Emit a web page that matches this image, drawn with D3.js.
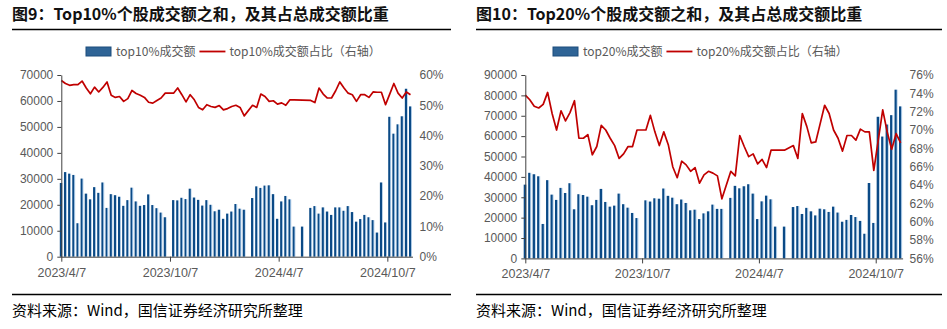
<!DOCTYPE html>
<html>
<head>
<meta charset="utf-8">
<script src="https://cdn.jsdelivr.net/npm/d3@7"></script>
<style>
  body { margin: 0; background: #fff; }
  svg { display: block; }
</style>
</head>
<body>
<svg id="chart" width="947" height="329"></svg>
<script>
// weekly data, Fridays from 2023/4/7 to 2024/11/15 (null = no trading week)
const startDate = new Date(2023, 3, 7);
const endDate = new Date(2024, 10, 15);
const weeks = d3.timeFriday.range(startDate, d3.timeDay.offset(endDate, 1));
const xTickLabels = ["2023/4/7", "2023/10/7", "2024/4/7", "2024/10/7"];

const top10Amount = [
  28400, 32600, 32000, 31500, 12900, 30100, 24300, 22100, 26800, 24600,
  28600, 18800, 24100, 23700, 23100, 19600, 21800, 26600, 21300, 19600,
  19900, 24000, 19900, 18700, 17000, 15200, null, 21800, 21700, 22700,
  22200, 26200, 22800, 21900, 19700, 21800, 20000, 17500, 18100, 14600,
  16600, 17400, 20300, 18500, 18100, null, 22600, 27100, 26500, 27400,
  27500, 24100, 14600, 21300, 23400, 22100, 11600, null, 11600, null,
  18800, 19500, 16600, 19000, 17400, 16100, 19000, 19000, 17700, 19500,
  17200, 13500, 14500, 16100, 15200, 14100, 9300, 28600, 13200, 53900,
  47400, 51000, 54100, 64700, 57900
];
const top10Share = [
  58.2, 57.2, 56.6, 56.8, 56.8, 58.0, 55.7, 53.8, 56.0, 54.4,
  55.9, 57.7, 53.3, 52.6, 52.9, 51.3, 52.2, 54.9, 53.9, 53.3,
  52.6, 51.0, 50.7, 51.6, 52.4, 54.0, null, 54.0, 55.7, 53.5,
  51.1, 53.5, 51.8, 49.3, 48.5, 50.2, 49.6, 49.3, 49.9, 48.5,
  48.9, 49.6, 50.0, 49.3, 46.5, null, 50.0, 49.3, 53.7, 52.9,
  51.3, 51.5, 50.4, 50.8, 50.0, 51.8, 51.8, null, 51.7, null,
  51.6, 50.9, 55.7, 53.7, 52.4, 52.4, 54.8, 57.7, 55.7, 54.0,
  53.5, 51.3, 53.5, 53.5, 52.6, 54.4, 54.3, 54.3, 50.2, 53.7,
  57.2, 54.0, 52.4, 54.4, 53.5
];

const top20Amount = [
  36200, 42000, 41300, 40300, 16900, 38400, 31300, 28700, 34600, 32100,
  36900, 24100, 31500, 31100, 30300, 26100, 28700, 34100, 27700, 25400,
  25900, 31800, 26600, 24900, 22300, 19800, null, 28500, 27900, 29500,
  29300, 34300, 30700, 29800, 26600, 28900, 27200, 23600, 23900, 19300,
  22100, 23100, 26400, 24300, 24300, null, 29700, 35600, 34400, 35400,
  36400, 31800, 19300, 28000, 30800, 29000, 15600, null, 15600, null,
  25200, 25700, 21800, 24800, 23100, 21100, 24400, 24100, 22800, 25400,
  22500, 18000, 18900, 21300, 20300, 18400, 12100, 37000, 17400, 69500,
  59800, 65700, 70300, 82800, 74600
];
const top20Share = [
  73.8, 73.3, 72.6, 72.4, 72.8, 74.1, 71.8, 70.0, 72.1, 71.0,
  71.9, 73.2, 69.1, 69.1, 69.5, 67.3, 68.2, 70.5, 70.0, 69.1,
  68.3, 66.9, 67.4, 68.2, 68.2, 70.0, null, 70.0, 71.6, 69.8,
  68.3, 69.8, 68.4, 66.0, 64.8, 66.6, 66.2, 65.5, 65.9, 64.2,
  65.1, 65.5, 65.3, 65.0, 62.5, null, 65.5, 65.0, 69.4, 68.2,
  67.1, 67.4, 66.3, 66.8, 65.9, 67.8, 67.8, null, 67.8, null,
  68.3, 66.9, 71.8, 70.4, 68.6, 68.7, 70.7, 72.7, 71.8, 70.0,
  69.1, 67.7, 69.4, 69.4, 68.9, 70.1, 69.8, 69.8, 65.6, 68.9,
  72.2, 69.8, 67.9, 69.6, 68.6
];

const sourceText = "资料来源：Wind，国信证券经济研究所整理";

const charts = [
  {
    title: "图9：Top10%个股成交额之和，及其占总成交额比重",
    barName: "top10%成交额", lineName: "top10%成交额占比（右轴）",
    bars: top10Amount, line: top10Share,
    left: 12, right: 451,
    plotL: 61.3, plotR: 410.5, plotT: 75, plotB: 256.7,
    yMax: 70000, yStep: 10000, rMin: 0, rMax: 60, rStep: 10,
    legendX: 86, barW: 3
  },
  {
    title: "图10：Top20%个股成交额之和，及其占总成交额比重",
    barName: "top20%成交额", lineName: "top20%成交额占比（右轴）",
    bars: top20Amount, line: top20Share,
    left: 476, right: 942,
    plotL: 525.3, plotR: 900.6, plotT: 75, plotB: 258.4,
    yMax: 90000, yStep: 10000, rMin: 56, rMax: 76, rStep: 2,
    legendX: 553, barW: 3.2
  }
];

const svg = d3.select("#chart");
svg.append("rect").attr("width", 947).attr("height", 329).attr("fill", "#fff");

const defs = svg.append("defs");
const grad = defs.append("linearGradient").attr("id", "barGrad")
  .attr("x1", 0).attr("x2", 1).attr("y1", 0).attr("y2", 0);
grad.append("stop").attr("offset", "0%").attr("stop-color", "#0b4a86");
grad.append("stop").attr("offset", "58%").attr("stop-color", "#0b4a86");
grad.append("stop").attr("offset", "66%").attr("stop-color", "#86afd6");
grad.append("stop").attr("offset", "100%").attr("stop-color", "#cfe0f0");

const cjk = "'Noto Sans CJK SC', 'Noto Sans', sans-serif";
const num = "'Liberation Sans', Arial, sans-serif";
const fmtDate = d3.timeFormat("%Y/%-m/%-d");
const parseDate = d3.timeParse("%Y/%-m/%-d");

charts.forEach(c => {
  const g = svg.append("g");

  // title + rule
  g.append("text").attr("x", c.left).attr("y", 20)
    .attr("font-family", cjk).attr("font-weight", "bold").attr("font-size", 16)
    .attr("fill", "#111").text(c.title);
  g.append("line").attr("x1", c.left).attr("x2", c.right).attr("y1", 29.5).attr("y2", 29.5)
    .attr("stroke", "#000").attr("stroke-width", 1.3);

  // legend
  g.append("rect").attr("x", c.legendX).attr("y", 47).attr("width", 25).attr("height", 9)
    .attr("fill", "#2f6496").attr("stroke", "#1d4c7c").attr("stroke-width", 1);
  const t1 = g.append("text").attr("x", c.legendX + 30).attr("y", 55.5)
    .attr("font-family", cjk).attr("font-size", 12).attr("fill", "#595959").text(c.barName);
  const lx = c.legendX + 30 + t1.node().getComputedTextLength() + 4;
  g.append("line").attr("x1", lx).attr("x2", lx + 26).attr("y1", 51.5).attr("y2", 51.5)
    .attr("stroke", "#c00000").attr("stroke-width", 1.8);
  g.append("text").attr("x", lx + 30).attr("y", 55.5)
    .attr("font-family", cjk).attr("font-size", 12).attr("fill", "#595959").text(c.lineName);

  // scales
  const x = d3.scaleTime().domain([startDate, endDate]).range([c.plotL, c.plotR]);
  const y = d3.scaleLinear().domain([0, c.yMax]).range([c.plotB, c.plotT]);
  const yr = d3.scaleLinear().domain([c.rMin, c.rMax]).range([c.plotB, c.plotT]);

  // bars
  const barData = weeks.map((d, i) => ({ date: d, v: c.bars[i] })).filter(d => d.v != null);
  g.append("g").selectAll("rect").data(barData).join("rect")
    .attr("x", d => x(d.date) - c.barW / 2)
    .attr("width", c.barW)
    .attr("y", d => y(d.v))
    .attr("height", d => c.plotB - y(d.v))
    .attr("fill", "url(#barGrad)");

  // line (connects across missing weeks)
  const lineData = weeks.map((d, i) => ({ date: d, v: c.line[i] })).filter(d => d.v != null);
  g.append("path").datum(lineData)
    .attr("fill", "none").attr("stroke", "#c00000").attr("stroke-width", 1.7)
    .attr("stroke-linejoin", "round")
    .attr("d", d3.line().x(d => x(d.date)).y(d => yr(d.v)));

  // left axis
  const ax = g.append("g").attr("transform", `translate(${c.plotL},0)`)
    .call(d3.axisLeft(y).tickValues(d3.range(0, c.yMax + 1, c.yStep))
      .tickSize(4).tickSizeOuter(0).tickPadding(4).tickFormat(d3.format("d")));
  ax.select(".domain").attr("stroke", "#404040");
  ax.selectAll(".tick line").attr("stroke", "#404040");
  ax.selectAll("text").attr("font-family", num).attr("font-size", 12).attr("fill", "#595959");

  // right axis
  const ar = g.append("g").attr("transform", `translate(${c.plotR + 3},0)`)
    .call(d3.axisRight(yr).tickValues(d3.range(c.rMin, c.rMax + 0.1, c.rStep))
      .tickSize(0).tickPadding(6).tickFormat(d => d + "%"));
  ar.select(".domain").remove();
  ar.selectAll("text").attr("font-family", num).attr("font-size", 12).attr("fill", "#595959");

  // bottom axis
  const ab = g.append("g").attr("transform", `translate(0,${c.plotB})`)
    .call(d3.axisBottom(x).tickValues(xTickLabels.map(parseDate))
      .tickSize(5).tickPadding(6).tickFormat(fmtDate));
  ab.select(".domain").remove();
  ab.selectAll(".tick line").attr("stroke", "#404040");
  ab.selectAll("text").attr("font-family", num).attr("font-size", 12.5).attr("fill", "#595959");
  g.append("line").attr("x1", c.plotL).attr("x2", c.plotR + 2.5)
    .attr("y1", c.plotB + 0.5).attr("y2", c.plotB + 0.5)
    .attr("stroke", "#404040").attr("stroke-width", 1);

  // footer
  g.append("line").attr("x1", c.left).attr("x2", c.right).attr("y1", 294.5).attr("y2", 294.5)
    .attr("stroke", "#000").attr("stroke-width", 1.3);
  g.append("text").attr("x", c.left).attr("y", 316)
    .attr("font-family", cjk).attr("font-size", 15).attr("fill", "#000").text(sourceText);
});
</script>
</body>
</html>
